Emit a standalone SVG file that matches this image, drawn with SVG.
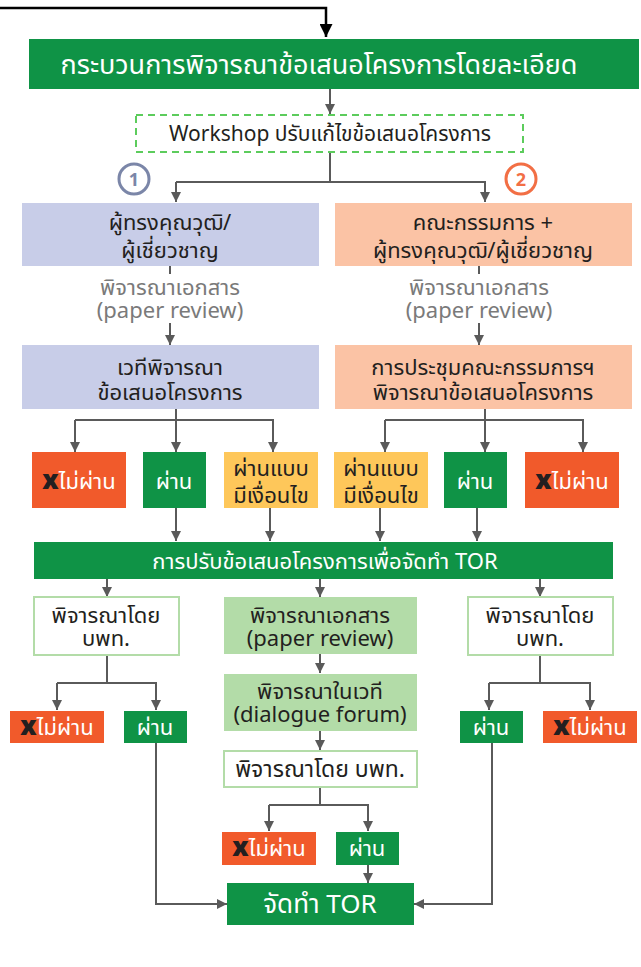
<svg xmlns="http://www.w3.org/2000/svg" width="641" height="967" viewBox="0 0 641 967">
<defs>
<marker id="ah" markerUnits="userSpaceOnUse" markerWidth="10" markerHeight="10" refX="10" refY="5" orient="auto" viewBox="0 0 10 10"><path d="M0,0 L10,5 L0,10 z" fill="#5a5a5a"/></marker>
<marker id="ahb" markerUnits="userSpaceOnUse" markerWidth="13" markerHeight="13" refX="13" refY="6.5" orient="auto" viewBox="0 0 13 13"><path d="M0,0 L13,6.5 L0,13 z" fill="#000"/></marker>
<style>
text{font-family:"Noto Sans Thai","Noto Sans","DejaVu Sans",sans-serif;text-anchor:middle;}
.c{fill:none;stroke:#5a5a5a;stroke-width:2;}
.ca{fill:none;stroke:#5a5a5a;stroke-width:2;marker-end:url(#ah);}
.green{fill:#0f9346;}
.blue{fill:#c8cde8;}
.peach{fill:#fbc3a5;}
.red{fill:#f15a2b;}
.yellow{fill:#fec75a;}
.lgreen{fill:#b3dca8;}
.wbox{fill:#fff;stroke:#b3dca8;stroke-width:2;}
.tw{fill:#fff;font-size:22px;}
.td{fill:#231f20;font-size:22px;}
.tg{fill:#7a7a7a;font-size:22px;}
.x{fill:#231f20;font-weight:900;font-size:26px;}
</style>
</defs>
<g id="connectors">
<path d="M0,8 H326 V37" fill="none" stroke="#000" stroke-width="2.5" marker-end="url(#ahb)"/>
<path class="ca" d="M330,89 V114"/>
<path class="c" d="M330,152 V182"/>
<path class="ca" d="M176,182 H485 V202"/>
<path class="ca" d="M176,182 V202"/>
<path class="c" d="M170,266 V274"/>
<path class="c" d="M479,266 V274"/>
<path class="ca" d="M170,323 V345"/>
<path class="ca" d="M479,323 V345"/>
<path class="c" d="M176,409 V420"/>
<path class="ca" d="M75,420 H273 V452"/>
<path class="ca" d="M75,420 V452"/>
<path class="ca" d="M176,420 V452"/>
<path class="c" d="M485,409 V420"/>
<path class="ca" d="M385,420 H583 V452"/>
<path class="ca" d="M385,420 V452"/>
<path class="ca" d="M485,420 V452"/>
<path class="ca" d="M176,508 V541"/>
<path class="ca" d="M270,508 V541"/>
<path class="ca" d="M380,508 V541"/>
<path class="ca" d="M477,508 V541"/>
<path class="ca" d="M107,579 V597"/>
<path class="ca" d="M320,579 V597"/>
<path class="ca" d="M540,579 V597"/>
<path class="c" d="M107,655 V683"/>
<path class="ca" d="M57,683 H156 V710"/>
<path class="ca" d="M57,683 V710"/>
<path class="c" d="M540,655 V683"/>
<path class="ca" d="M489,683 H590 V710"/>
<path class="ca" d="M489,683 V710"/>
<path class="ca" d="M320,654 V673"/>
<path class="ca" d="M320,731 V750"/>
<path class="c" d="M320,787 V805"/>
<path class="ca" d="M269,805 H368 V831"/>
<path class="ca" d="M269,805 V831"/>
<path class="ca" d="M368,865 V883"/>
<path class="ca" d="M156,743 V904 H227"/>
<path class="ca" d="M492,743 V904 H414"/>
</g>
<g id="main"><rect class="green" x="29" y="39" width="610" height="50"/><text class="tw" x="319" y="74" style="font-size:27px">กระบวนการพิจารณาข้อเสนอโครงการโดยละเอียด</text></g>
<g id="workshop"><rect x="136" y="115" width="387" height="37" fill="#fff" stroke="#5ccc5c" stroke-width="2" stroke-dasharray="7,5"/><text class="td" x="330" y="141" style="font-size:21px">Workshop ปรับแก้ไขข้อเสนอโครงการ</text></g>
<g id="badge1"><circle cx="134" cy="179" r="15" fill="#fff" stroke="#7b86a8" stroke-width="3"/><text x="134" y="186" style="fill:#7b86a8;font-size:18px;font-weight:bold">1</text></g>
<g id="badge2"><circle cx="521" cy="179" r="15" fill="#fff" stroke="#f26f45" stroke-width="3"/><text x="521" y="186" style="fill:#f26f45;font-size:18px;font-weight:bold">2</text></g>
<g id="expert"><rect class="blue" x="22" y="203" width="297" height="63"/><text class="td" x="170" y="230">ผู้ทรงคุณวุฒิ/</text><text class="td" x="170" y="258">ผู้เชี่ยวชาญ</text></g>
<g id="committee"><rect class="peach" x="335" y="203" width="297" height="63"/><text class="td" x="483" y="230">คณะกรรมการ +</text><text class="td" x="483" y="258">ผู้ทรงคุณวุฒิ/ผู้เชี่ยวชาญ</text></g>
<g id="review1"><text class="tg" x="170" y="295">พิจารณาเอกสาร</text><text class="tg" x="170" y="318">(paper review)</text></g>
<g id="review2"><text class="tg" x="479" y="295">พิจารณาเอกสาร</text><text class="tg" x="479" y="318">(paper review)</text></g>
<g id="forum"><rect class="blue" x="22" y="345" width="297" height="64"/><text class="td" x="170" y="375">เวทีพิจารณา</text><text class="td" x="170" y="400">ข้อเสนอโครงการ</text></g>
<g id="meeting"><rect class="peach" x="335" y="345" width="297" height="64"/><text class="td" x="483" y="375">การประชุมคณะกรรมการฯ</text><text class="td" x="483" y="400">พิจารณาข้อเสนอโครงการ</text></g>
<g id="fail1"><rect class="red" x="32" y="452" width="94" height="56"/><text x="79" y="489" class="tw"><tspan class="x">x</tspan>ไม่ผ่าน</text></g>
<g id="pass1"><rect class="green" x="143" y="452" width="63" height="56"/><text class="tw" x="174" y="489">ผ่าน</text></g>
<g id="cond1"><rect class="yellow" x="224" y="452" width="94" height="56"/><text class="td" x="271" y="476">ผ่านแบบ</text><text class="td" x="271" y="503">มีเงื่อนไข</text></g>
<g id="cond2"><rect class="yellow" x="334" y="452" width="94" height="56"/><text class="td" x="381" y="476">ผ่านแบบ</text><text class="td" x="381" y="503">มีเงื่อนไข</text></g>
<g id="pass2"><rect class="green" x="444" y="452" width="63" height="56"/><text class="tw" x="475" y="489">ผ่าน</text></g>
<g id="fail2"><rect class="red" x="525" y="452" width="94" height="56"/><text x="572" y="489" class="tw"><tspan class="x">x</tspan>ไม่ผ่าน</text></g>
<g id="adjust"><rect class="green" x="34" y="542" width="579" height="37"/><text class="tw" x="325" y="569">การปรับข้อเสนอโครงการเพื่อจัดทำ TOR</text></g>
<g id="pmuL"><rect class="wbox" x="34" y="597" width="145" height="58"/><text class="td" x="106" y="623">พิจารณาโดย</text><text class="td" x="106" y="646">บพท.</text></g>
<g id="paper"><rect class="lgreen" x="224" y="597" width="193" height="57"/><text class="td" x="320" y="623">พิจารณาเอกสาร</text><text class="td" x="320" y="646">(paper review)</text></g>
<g id="pmuR"><rect class="wbox" x="468" y="597" width="145" height="58"/><text class="td" x="540" y="623">พิจารณาโดย</text><text class="td" x="540" y="646">บพท.</text></g>
<g id="dialogue"><rect class="lgreen" x="224" y="674" width="193" height="57"/><text class="td" x="320" y="699">พิจารณาในเวที</text><text class="td" x="320" y="722">(dialogue forum)</text></g>
<g id="pmuM"><rect class="wbox" x="224" y="751" width="193" height="36"/><text class="td" x="320" y="777" style="font-size:23px">พิจารณาโดย บพท.</text></g>
<g id="fail3"><rect class="red" x="10" y="711" width="94" height="32"/><text x="57" y="735" class="tw"><tspan class="x">x</tspan>ไม่ผ่าน</text></g>
<g id="pass3"><rect class="green" x="124" y="711" width="63" height="32"/><text class="tw" x="155" y="735">ผ่าน</text></g>
<g id="pass4"><rect class="green" x="460" y="711" width="63" height="32"/><text class="tw" x="491" y="735">ผ่าน</text></g>
<g id="fail4"><rect class="red" x="543" y="711" width="94" height="32"/><text x="590" y="735" class="tw"><tspan class="x">x</tspan>ไม่ผ่าน</text></g>
<g id="fail5"><rect class="red" x="222" y="832" width="94" height="33"/><text x="269" y="856" class="tw"><tspan class="x">x</tspan>ไม่ผ่าน</text></g>
<g id="pass5"><rect class="green" x="336" y="832" width="63" height="33"/><text class="tw" x="367" y="856">ผ่าน</text></g>
<g id="tor"><rect class="green" x="227" y="883" width="187" height="42"/><text class="tw" x="320" y="913" style="font-size:26px">จัดทำ TOR</text></g>
</svg>
